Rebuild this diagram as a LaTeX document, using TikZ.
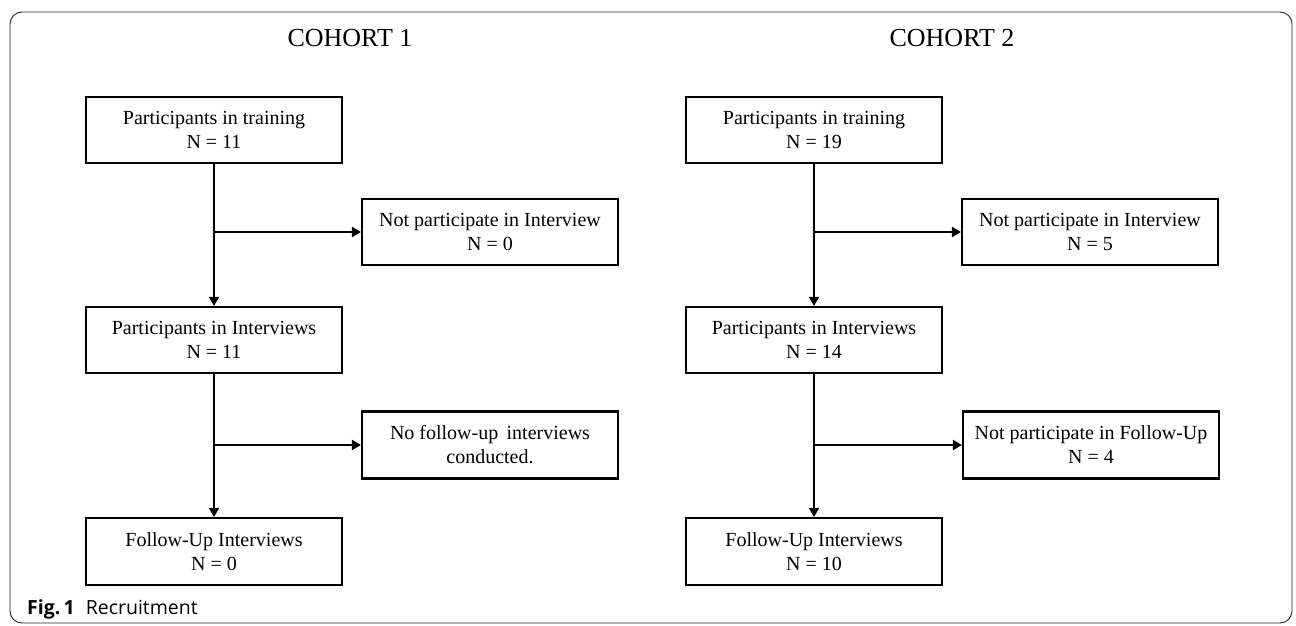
\documentclass[tikz,border=0pt]{standalone}
\usepackage{fontspec}
\setmainfont{Liberation Serif}
\newfontfamily\capfont{Open Sans}
\usetikzlibrary{arrows.meta}
\tikzset{
  boxnode/.style={draw=black, line width=2.2pt, minimum width=256pt, minimum height=66pt, inner sep=0pt, align=center, font=\fontsize{20}{24}\selectfont},
  arr/.style={line width=2.7pt, -{Triangle[length=9pt,width=10pt]}},
  titlenode/.style={anchor=base, font=\fontsize{26}{30}\selectfont, inner sep=0pt}
}
\begin{document}
\begin{tikzpicture}[x=1pt,y=-1pt]
\useasboundingbox (0,0) rectangle (1296,626);
\draw[black!85, line width=0.9pt, rounded corners=12pt] (10,12) rectangle (1292,623);

\node[titlenode] (h1) at (350,47) {COHORT 1};
\node[titlenode] (h2) at (952,47) {COHORT 2};

% Cohort 1
\node[boxnode] (t1) at (214,130) {Participants in training\\N = 11};
\node[boxnode] (n1) at (490,232) {Not participate in Interview\\N = 0};
\node[boxnode] (i1) at (214,340) {Participants in Interviews\\N = 11};
\node[boxnode, minimum height=67pt] (f1) at (490,445) {No follow-up\, interviews\\conducted.};
\node[boxnode, minimum height=67pt] (u1) at (214,551.5) {Follow-Up Interviews\\N = 0};

% Cohort 2
\node[boxnode] (t2) at (814,130) {Participants in training\\N = 19};
\node[boxnode] (n2) at (1090,232) {Not participate in Interview\\N = 5};
\node[boxnode] (i2) at (814,340) {Participants in Interviews\\N = 14};
\node[boxnode, minimum height=67pt] (f2) at (1091,445) {Not participate in Follow-Up\\N = 4};
\node[boxnode, minimum height=67pt] (u2) at (814,551.5) {Follow-Up Interviews\\N = 10};

% connectors
\draw[arr] (t1) -- (i1);
\draw[arr] (t1.south |- n1.west) -- (n1.west);
\draw[arr] (i1) -- (u1);
\draw[arr] (i1.south |- f1.west) -- (f1.west);

\draw[arr] (t2) -- (i2);
\draw[arr] (t2.south |- n2.west) -- (n2.west);
\draw[arr] (i2) -- (u2);
\draw[arr] (i2.south |- f2.west) -- (f2.west);

\node[anchor=base west, inner sep=0pt, font=\capfont\fontsize{19.5}{22}\selectfont] (cap) at (27,614) {\textbf{Fig.\,1}\hspace{11pt}Recruitment};
\end{tikzpicture}
\end{document}
